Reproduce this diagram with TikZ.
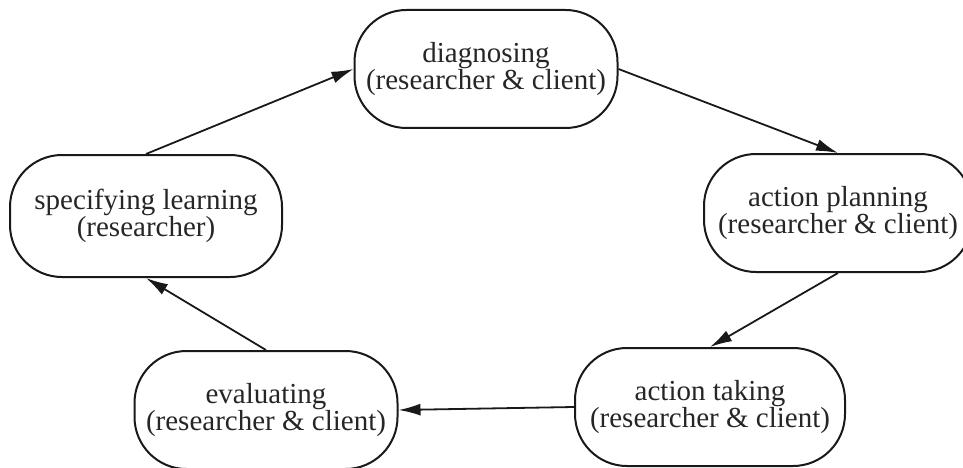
\documentclass[tikz,border=0pt]{standalone}
\usepackage{fontspec}
\setmainfont{Liberation Serif}
\usetikzlibrary{arrows.meta}
\begin{document}
\begin{tikzpicture}[x=1pt,y=-1pt,
  stage/.style={draw=black!90, line width=2pt, rectangle, rounded corners=52pt,
    minimum height=118pt, align=center, inner sep=0pt,
    font=\fontsize{29}{26.5}\selectfont, text=black!85},
  flow/.style={draw=black!90, line width=1.8pt,
    -{Latex[length=22pt,width=12pt]}, fill=black!75}
]
\useasboundingbox (0,0) rectangle (963,468);
\node[stage, minimum width=263pt] (diag) at (486,69) {diagnosing\\(researcher \& client)};
\node[stage, minimum width=268pt] (plan) at (838,213) {action planning\\(researcher \& client)};
\node[stage, minimum width=270pt] (take) at (710,407) {action taking\\(researcher \& client)};
\node[stage, minimum width=263pt] (eval) at (266,410) {evaluating\\(researcher \& client)};
\node[stage, minimum width=272pt, minimum height=122pt] (spec) at (146,216) {specifying learning\\(researcher)};
\draw[flow] (spec.north) -- (diag.west);
\draw[flow] (diag.east) -- (plan.north);
\draw[flow] (plan.south) -- (take.north);
\draw[flow] (take.west) -- (eval.east);
\draw[flow] (eval.north) -- (spec.south);
\end{tikzpicture}
\end{document}
